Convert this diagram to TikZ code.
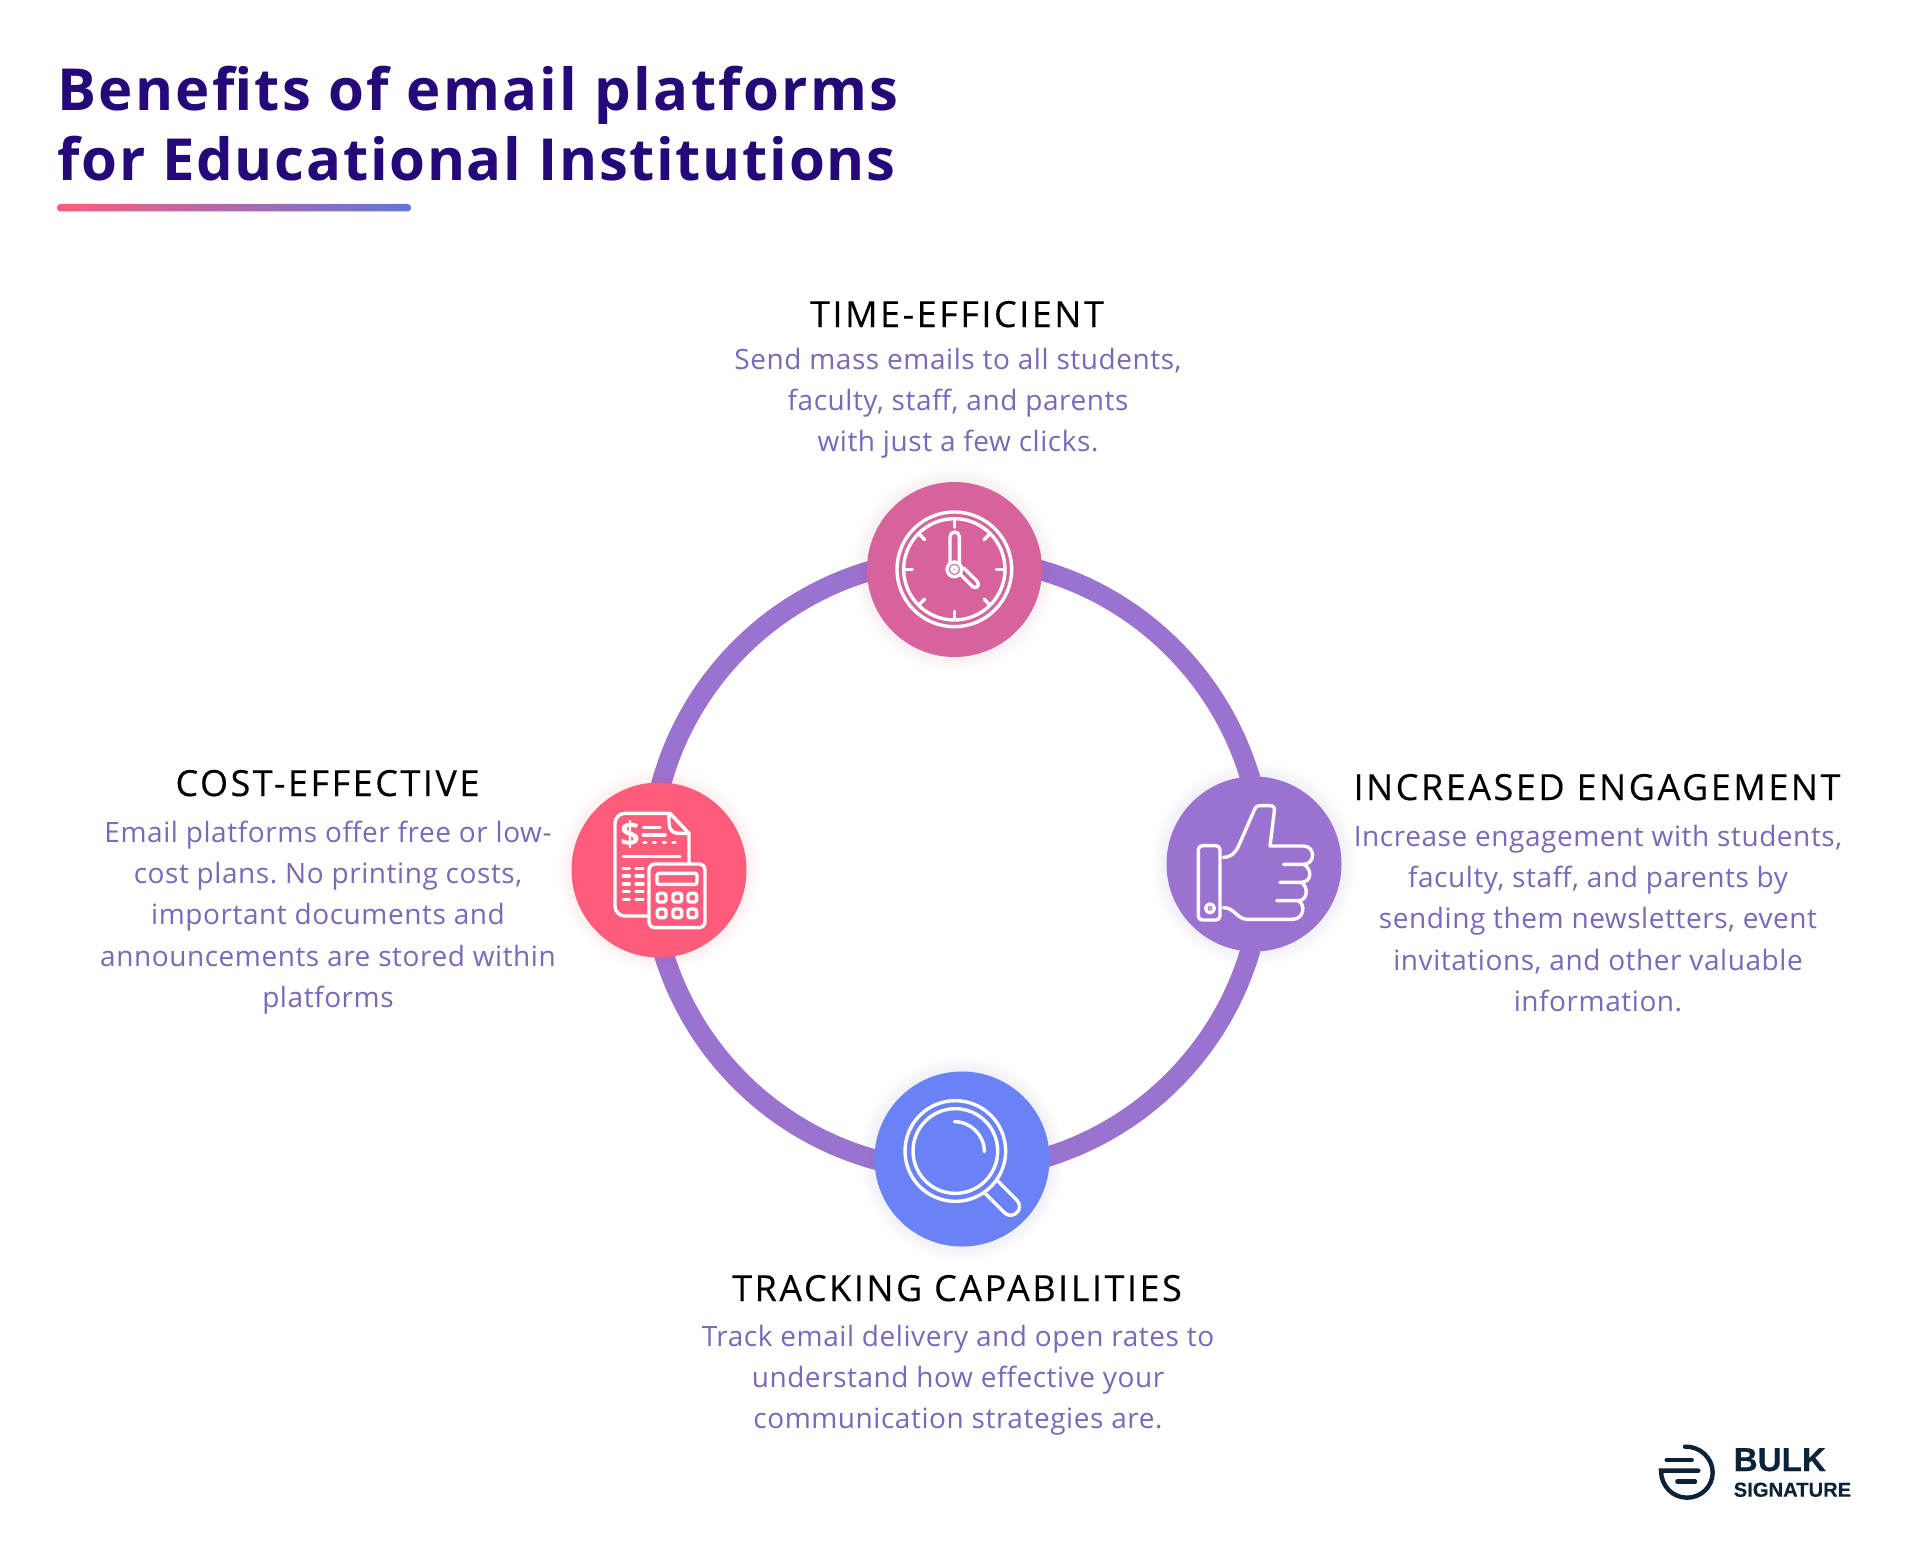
\documentclass[tikz,border=0pt]{standalone}
\usepackage{fontspec}
\setmainfont[LetterSpace=2]{Open Sans}
\newfontfamily\titlef[LetterSpace=3]{Open Sans}
\newfontfamily\titleg[LetterSpace=4]{Open Sans}
\newfontfamily\headf[LetterSpace=7,FakeBold=0.25]{Open Sans}
\newfontfamily\logof[FakeBold=0.2]{Liberation Sans}
\definecolor{ringc}{RGB}{155,114,207}
\definecolor{pinkc}{RGB}{214,99,155}
\definecolor{redc}{RGB}{255,92,124}
\definecolor{bluec}{RGB}{107,130,247}
\definecolor{titlec}{RGB}{38,9,120}
\definecolor{bodyc}{RGB}{122,104,184}
\definecolor{logoc}{RGB}{11,34,57}
\tikzset{
 titlet/.style={anchor=base west,inner sep=0,text=titlec,font=\titlef\bfseries\fontsize{29}{35}\selectfont},
 titleu/.style={anchor=base west,inner sep=0,text=titlec,font=\titleg\bfseries\fontsize{29}{35}\selectfont},
 headt/.style={anchor=base,inner sep=0,text=black,font=\headf\fontsize{18}{20}\selectfont},
 bodyt/.style={anchor=center,inner sep=0,align=center,text=bodyc,font=\frenchspacing\fontsize{14}{20.6}\selectfont},
 disc/.style={circle,minimum size=87.5pt,inner sep=0,fill=#1},
 ic/.style={draw=white,line width=1.7pt,line cap=round,line join=round},
 logol/.style={draw=logoc,line width=2.2pt,line cap=round}
}
\newcommand{\glow}[2]{\foreach \r in {88,90,...,102}{\fill[#2,opacity=0.01] #1 circle[radius=\r];}}
\begin{document}
\begin{tikzpicture}[x=0.5pt,y=-0.5pt]
\useasboundingbox (0,0) rectangle (1910,1562);
\fill[white] (0,0) rectangle (1910,1562);
% title
\node[titleu] (t1) at (57,111) {Benefits of email platforms};
\node[titlet] (t2) at (57,181) {for Educational Institutions};
\shade[left color=redc,right color=bluec!90!black,rounded corners=1.7pt] (57,204) rectangle (411,211.5);
% ring
\draw[ringc,line width=10pt] (956.5,864.5) circle[radius=306];
% discs
\glow{(954.5,569.5)}{pinkc}
\glow{(659,870)}{redc}
\glow{(1254,864)}{ringc}
\glow{(962,1159)}{bluec}
\node[disc=pinkc] (clock) at (954.5,569.5) {};
\node[disc=redc] (calc) at (659,870) {};
\node[disc=ringc] (thumb) at (1254,864) {};
\node[disc=bluec] (lens) at (962,1159) {};
% clock icon
\begin{scope}[shift={(860,470)},x=0.16667pt,y=-0.16667pt]
\draw[ic] (283,298) circle[radius=172] (283,298) circle[radius=152];
\foreach \a in {0,45,...,315}{\draw[ic] (283,298)++(\a:126) -- ++(\a:20);}
\draw[ic] (270,278) -- (270,200) arc[start angle=180,end angle=360,radius=14] -- (298,278);
\draw[ic] (302,314) -- (337,349) .. controls (348,360) and (362,345) .. (352,335) -- (311,294);
\draw[ic] (283,298) circle[radius=22] (283,298) circle[radius=8];
\end{scope}
% calculator icon
\begin{scope}[shift={(565,780)},x=0.16667pt,y=-0.16667pt]
\draw[ic,rounded corners=5pt] (315,100) -- (150,100) -- (150,408) -- (250,408);
\draw[ic] (315,100) -- (372,160) -- (372,248);
\draw[ic] (312,105) -- (312,130) .. controls (312,150) and (325,160) .. (340,160) -- (372,160);
\node[inner sep=0,text=white,font=\bfseries\fontsize{17}{17}\selectfont] (dollar) at (195,165) {\$};
\draw[ic] (235,143) -- (285,143) (235,165) -- (300,165);
\draw[ic] (237,188) -- (243,188) (265,188) -- (271,188) (295,188) -- (301,188) (324,188) -- (330,188);
\draw[ic] (175,230) -- (345,230);
\foreach \y in {265,288,312,335,358}{\draw[ic] (175,\y) -- (193,\y) (213,\y) -- (234,\y);}
\draw[ic,rounded corners=3pt] (252,252) rectangle (420,443);
\draw[ic,rounded corners=1pt] (276,280) rectangle (396,313);
\foreach \x in {290,337,382}{\foreach \y in {353,400}{\draw[ic,rounded corners=1.2pt] (\x-13,\y-13) rectangle (\x+13,\y+13);}}
\end{scope}
% thumb icon
\begin{scope}[shift={(1165,775)},x=0.16667pt,y=-0.16667pt]
\draw[ic,rounded corners=2pt] (100,212) rectangle (165,435);
\draw[ic] (135,400) circle[radius=13];
\fill[white] (135,400) circle[radius=3];
\draw[ic] (175,247) .. controls (200,247) and (212,232) .. (222,210) -- (268,105) .. controls (274,92) and (278,92) .. (290,92) -- (315,92) .. controls (326,92) and (329,98) .. (328,108) -- (315,213) -- (415,213) .. controls (452,213) and (452,268) .. (415,268) -- (355,268);
\draw[ic] (415,268) .. controls (442,280) and (442,322) .. (408,322) -- (345,322);
\draw[ic] (408,322) .. controls (430,332) and (430,377) .. (400,377) -- (335,377);
\draw[ic] (400,377) .. controls (422,388) and (418,433) .. (382,433) -- (248,433) .. controls (215,433) and (210,398) .. (175,398);
\end{scope}
% lens icon
\begin{scope}[shift={(870,1070)},x=0.16667pt,y=-0.16667pt]
\draw[ic] (256,243) circle[radius=151] (256,243) circle[radius=127];
\draw[ic] (253,155) arc[start angle=-90,end angle=0,radius=90];
\draw[ic] (345,370) -- (405,430) .. controls (430,450) and (465,415) .. (440,390) -- (383,333);
\end{scope}
% texts
\node[headt] (h1) at (957,327) {TIME-EFFICIENT};
\node[bodyt] (b1) at (958,403) {Send mass emails to all students,\\faculty, staff, and parents\\with just a few clicks.};
\node[headt] (h2) at (327.5,796) {COST-EFFECTIVE};
\node[bodyt] (b2) at (328,917.5) {Email platforms offer free or low-\\cost plans. No printing costs,\\important documents and\\announcements are stored within\\platforms};
\node[headt] (h3) at (1597,800) {INCREASED ENGAGEMENT};
\node[bodyt] (b3) at (1598,918.5) {Increase engagement with students,\\faculty, staff, and parents by\\sending them newsletters, event\\invitations, and other valuable\\information.};
\node[headt] (h4) at (957,1301) {TRACKING CAPABILITIES};
\node[bodyt] (b4) at (958,1380.5) {Track email delivery and open rates to\\understand how effective your\\communication strategies are.};
% logo
\begin{scope}[shift={(1640,1430)},x=0.16667pt,y=-0.16667pt]
\draw[logol] (135,50) .. controls (180,48) and (218,85) .. (218,127) .. controls (218,170) and (183,203) .. (141,203) .. controls (98,203) and (63,168) .. (63,122) -- (175,122);
\draw[logol] (80,90) -- (155,90) (112,155) -- (165,155);
\node[anchor=base west,inner sep=0,text=logoc,font=\logof\bfseries\fontsize{16.6}{16}\selectfont] (bulk) at (280,123) {BULK};
\node[anchor=base west,inner sep=0,text=logoc,font=\logof\bfseries\fontsize{10.1}{10}\selectfont] (sig) at (280,200) {SIGNATURE};
\end{scope}
\end{tikzpicture}
\end{document}
